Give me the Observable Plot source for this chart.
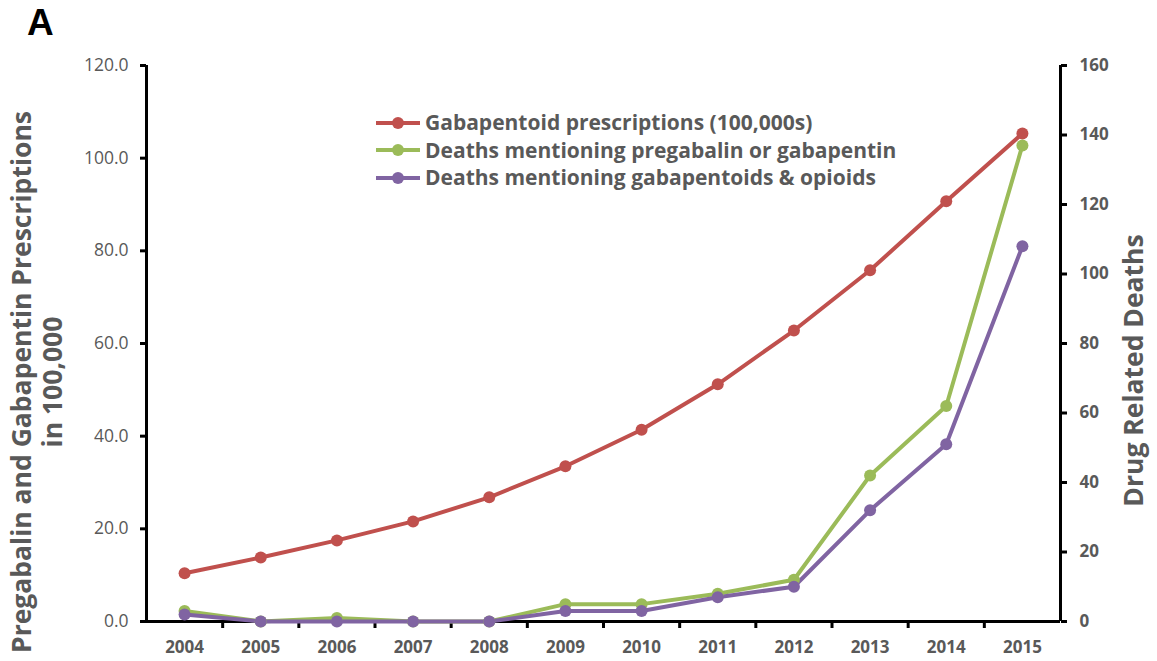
<!DOCTYPE html>
<html>
<head>
<meta charset="utf-8">
<script src="https://cdn.jsdelivr.net/npm/d3@7"></script>
<script src="https://cdn.jsdelivr.net/npm/@observablehq/plot@0.6"></script>
<style>
  html, body { margin: 0; padding: 0; background: #fff; }
  #wrap { position: relative; width: 1157px; height: 661px; font-family: "Open Sans", "Liberation Sans", sans-serif; }
  #panel { position: absolute; left: 27px; top: 1px; font-size: 37px; font-weight: bold; color: #000; font-family: "Liberation Sans", Arial, sans-serif; line-height: 44px; }
  #legend { position: absolute; left: 374px; top: 109px; font-size: 21px; font-weight: bold; color: #595959; line-height: 27.5px; }
  #legend .row { display: flex; align-items: center; white-space: nowrap; }
  #legend svg { margin-right: 3px; }
  .ytitle { position: absolute; font-weight: bold; color: #595959; font-size: 26.5px; white-space: nowrap; transform-origin: center; text-align: center; line-height: 31px; }
</style>
</head>
<body>
<div id="wrap">
  <div id="chart"></div>
  <div id="panel">A</div>
  <div id="legend"></div>
  <div class="ytitle" id="ltitle">Pregabalin and Gabapentin Prescriptions<br>in 100,000</div>
  <div class="ytitle" id="rtitle">Drug Related Deaths</div>
</div>
<script>
const years = [2004, 2005, 2006, 2007, 2008, 2009, 2010, 2011, 2012, 2013, 2014, 2015];
const prescriptions = [10.4, 13.8, 17.5, 21.6, 26.8, 33.5, 41.4, 51.2, 62.8, 75.8, 90.7, 105.3];
const deathsAny = [3, 0, 1, 0, 0, 5, 5, 8, 12, 42, 62, 137];
const deathsOpioid = [2, 0, 0, 0, 0, 3, 3, 7, 10, 32, 51, 108];
const leftTicks = [0, 20, 40, 60, 80, 100, 120];
const rightTicks = [0, 20, 40, 60, 80, 100, 120, 140, 160];
const seriesNames = ["Gabapentoid prescriptions (100,000s)", "Deaths mentioning pregabalin or gabapentin", "Deaths mentioning gabapentoids & opioids"];
const seriesColors = ["#C0504D", "#9BBB59", "#8064A2"];

const k = 120 / 160; // right axis -> left axis units
const rows = [];
years.forEach((y, i) => {
  rows.push({year: y, v: prescriptions[i], s: seriesNames[0]});
  rows.push({year: y, v: deathsAny[i] * k, s: seriesNames[1]});
  rows.push({year: y, v: deathsOpioid[i] * k, s: seriesNames[2]});
});
const boundaries = years.slice(0, -1).map(y => y + 0.5);
const xMin = years[0] - 0.5, xMax = years[years.length - 1] + 0.5;

const chart = Plot.plot({
  width: 1157,
  height: 661,
  marginLeft: 146,
  marginRight: 97,
  marginTop: 65,
  marginBottom: 40,
  style: {fontFamily: "'Open Sans', 'Liberation Sans', sans-serif", background: "#fff"},
  x: {type: "linear", domain: [xMin, xMax]},
  y: {domain: [0, 120]},
  color: {domain: seriesNames, range: seriesColors},
  marks: [
    Plot.axisY({anchor: "left", ticks: leftTicks, tickFormat: d => d.toFixed(1), tickSize: 6, strokeWidth: 3, stroke: "#000", fontSize: 17.5, fill: "#595959", tickPadding: 12, label: null}),
    Plot.axisY({anchor: "right", ticks: rightTicks.map(t => t * k), tickFormat: d => String(Math.round(d / k)), tickSize: 6, strokeWidth: 3, stroke: "#000", fontSize: 17, fontWeight: "bold", fill: "#595959", tickPadding: 13, label: null}),
    Plot.axisX({ticks: years, tickFormat: d => String(d), tickSize: 0, fontSize: 17, fontWeight: "bold", fill: "#595959", tickPadding: 19, label: null}),
    Plot.axisX({ticks: boundaries, tickFormat: () => "", tickSize: 7, strokeWidth: 3, stroke: "#000", label: null}),
    Plot.ruleX([xMin, xMax], {stroke: "#000", strokeWidth: 3}),
    Plot.ruleY([0], {stroke: "#000", strokeWidth: 3}),
    Plot.line(rows, {x: "year", y: "v", z: "s", stroke: "s", strokeWidth: 4}),
    Plot.dot(rows, {x: "year", y: "v", fill: "s", r: 6})
  ]
});
document.getElementById("chart").appendChild(chart);

const legend = document.getElementById("legend");
seriesNames.forEach((name, i) => {
  const row = document.createElement("div");
  row.className = "row";
  row.innerHTML = `<svg width="48" height="14"><line x1="2" x2="46" y1="7" y2="7" stroke="${seriesColors[i]}" stroke-width="4"/><circle cx="24" cy="7" r="6" fill="${seriesColors[i]}"/></svg><span>${name}</span>`;
  legend.appendChild(row);
});

const lt = document.getElementById("ltitle");
lt.style.left = (37 - lt.offsetWidth / 2) + "px";
lt.style.top = (382 - lt.offsetHeight / 2) + "px";
lt.style.transform = "rotate(-90deg)";
const rt = document.getElementById("rtitle");
rt.style.left = (1133 - rt.offsetWidth / 2) + "px";
rt.style.top = (370 - rt.offsetHeight / 2) + "px";
rt.style.transform = "rotate(-90deg)";
</script>
</body>
</html>
